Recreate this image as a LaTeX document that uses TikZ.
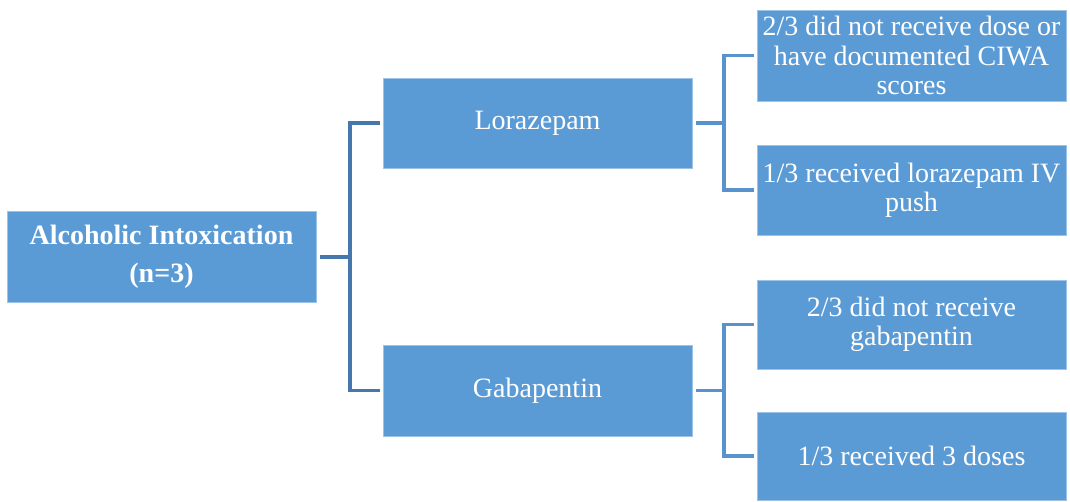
\documentclass[tikz,border=0pt]{standalone}
\usepackage{fontspec}
\setmainfont{Liberation Serif}
\definecolor{boxblue}{HTML}{5B9BD5}
\definecolor{lineone}{HTML}{4677AD}
\definecolor{linetwo}{HTML}{5893CE}
\begin{document}
\begin{tikzpicture}[x=0.75pt,y=-0.75pt,
  box/.style={rectangle,fill=boxblue,draw=boxblue!60!white,line width=0.6pt,
    minimum width=231.75pt,inner sep=0pt,outer sep=0pt,text=white,align=center,
    font=\fontsize{21}{22}\selectfont},
  rootbox/.style={box,font=\fontsize{21}{28.5}\selectfont\bfseries},
  cone/.style={draw=lineone,line width=2.5pt},
  conestub/.style={draw=lineone,line width=3pt},
  ctwo/.style={draw=linetwo,line width=2.3pt}]
\useasboundingbox (0,0) rectangle (1070,501);
\node[rootbox,minimum height=68.25pt] (root) at (161.5,256.5) {Alcoholic Intoxication\\(n=3)};
\node[box,minimum height=67.5pt] (lor) at (537.5,123) {\raisebox{-2pt}{Lorazepam}};
\node[box,minimum height=68.25pt] (gab) at (537.5,390.5) {Gabapentin};
\node[box,minimum height=68.25pt] (l1) at (911.5,55.5) {2/3 did not receive dose or\\have documented CIWA\\scores};
\node[box,minimum height=67.5pt] (l2) at (911.5,190) {1/3 received lorazepam IV\\push};
\node[box,minimum height=66.75pt] (l3) at (911.5,324.5) {2/3 did not receive\\gabapentin};
\node[box,minimum height=66pt] (l4) at (911.5,456) {1/3 received 3 doses};
% first level
\draw[cone] ([xshift=-2.25pt]lor.west) -- ++(-30,0) coordinate (v1) |- ([xshift=-2.25pt]gab.west);
\draw[conestub] ([xshift=3pt]root.east) -- (v1 |- root.east);
% second level
\draw[ctwo] ([xshift=-2.25pt]l1.west) -- ++(-30,0) coordinate (v2) |- ([xshift=-2.25pt]l2.west);
\draw[ctwo] ([xshift=3pt]lor.east) -- (v2 |- lor.east);
\draw[ctwo] ([xshift=-2.25pt]l3.west) -- ++(-30,0) coordinate (v3) |- ([xshift=-2.25pt]l4.west);
\draw[ctwo] ([xshift=3pt]gab.east) -- (v3 |- gab.east);
\end{tikzpicture}
\end{document}
